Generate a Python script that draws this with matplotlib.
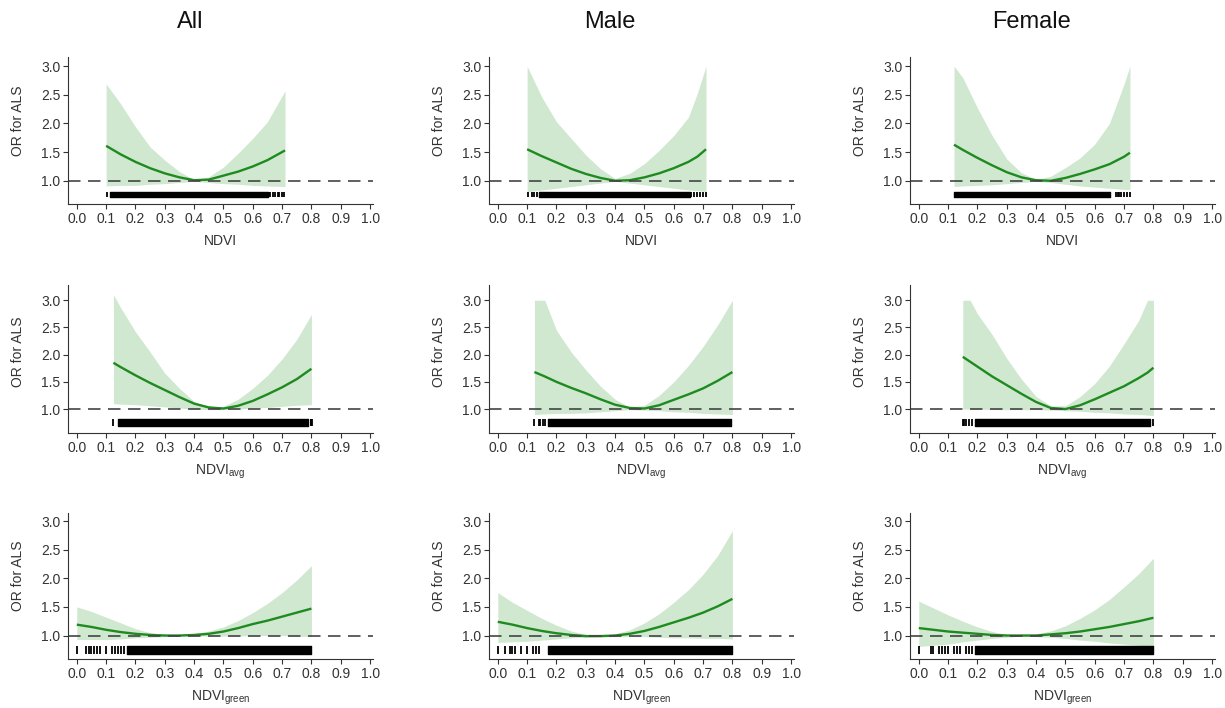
import matplotlib
matplotlib.use("Agg")
import matplotlib.pyplot as plt

plt.rcParams["font.family"] = ["Liberation Sans", "DejaVu Sans"]

# column / row labels
groups = ["All", "Male", "Female"]
exposures = ["NDVI", "NDVI$_{\\mathregular{avg}}$", "NDVI$_{\\mathregular{green}}$"]
x_ticks = [0.0, 0.1, 0.2, 0.3, 0.4, 0.5, 0.6, 0.7, 0.8, 0.9, 1.0]
y_ticks = [1.0, 1.5, 2.0, 2.5, 3.0]

# ---- row 1: NDVI ----
all_ndvi_x = [0.10, 0.15, 0.20, 0.25, 0.30, 0.35, 0.40, 0.45, 0.50, 0.55, 0.60, 0.65, 0.71]
all_ndvi_or = [1.61, 1.46, 1.33, 1.22, 1.13, 1.06, 1.01, 1.02, 1.09, 1.16, 1.25, 1.36, 1.53]
all_ndvi_hi = [2.69, 2.34, 1.94, 1.59, 1.36, 1.16, 1.02, 1.07, 1.24, 1.48, 1.74, 2.03, 2.57]
all_ndvi_lo = [0.91, 0.92, 0.92, 0.94, 0.95, 0.97, 0.99, 0.97, 0.95, 0.94, 0.92, 0.91, 0.90]
all_ndvi_rug = [0.102, 0.655, 0.66, 0.668, 0.675, 0.685, 0.69, 0.70, 0.705]
all_ndvi_dense = (0.114, 0.651)

male_ndvi_x = [0.10, 0.15, 0.20, 0.25, 0.30, 0.35, 0.40, 0.45, 0.50, 0.55, 0.60, 0.65, 0.68, 0.71]
male_ndvi_or = [1.55, 1.43, 1.32, 1.21, 1.12, 1.05, 1.00, 1.01, 1.06, 1.13, 1.22, 1.33, 1.42, 1.55]
male_ndvi_hi = [3.00, 2.46, 2.03, 1.74, 1.45, 1.21, 1.04, 1.13, 1.30, 1.53, 1.79, 2.11, 2.52, 3.00]
male_ndvi_lo = [0.81, 0.84, 0.87, 0.90, 0.93, 0.96, 0.99, 0.96, 0.93, 0.90, 0.87, 0.84, 0.83, 0.81]
male_ndvi_rug = [0.102, 0.115, 0.125, 0.135, 0.66, 0.67, 0.68, 0.69, 0.70, 0.71]
male_ndvi_dense = (0.14, 0.655)

female_ndvi_x = [0.12, 0.15, 0.20, 0.25, 0.30, 0.35, 0.40, 0.45, 0.50, 0.55, 0.60, 0.65, 0.70, 0.72]
female_ndvi_or = [1.63, 1.54, 1.40, 1.27, 1.15, 1.06, 1.01, 1.00, 1.05, 1.12, 1.20, 1.29, 1.42, 1.49]
female_ndvi_hi = [3.00, 2.80, 2.27, 1.79, 1.38, 1.14, 1.02, 1.08, 1.23, 1.40, 1.64, 2.00, 2.69, 3.00]
female_ndvi_lo = [0.90, 0.91, 0.92, 0.93, 0.95, 0.97, 0.99, 0.97, 0.94, 0.91, 0.89, 0.87, 0.85, 0.85]
female_ndvi_rug = [0.672, 0.678, 0.684, 0.69, 0.70, 0.71, 0.72]
female_ndvi_dense = (0.121, 0.653)

# ---- row 2: NDVI avg ----
all_avg_x = [0.125, 0.15, 0.20, 0.25, 0.30, 0.35, 0.40, 0.45, 0.50, 0.55, 0.60, 0.65, 0.70, 0.75, 0.80]
all_avg_or = [1.85, 1.77, 1.62, 1.48, 1.35, 1.22, 1.10, 1.03, 1.01, 1.06, 1.15, 1.27, 1.40, 1.55, 1.74]
all_avg_hi = [3.10, 2.86, 2.42, 2.05, 1.66, 1.38, 1.14, 1.03, 1.05, 1.18, 1.38, 1.62, 1.92, 2.28, 2.74]
all_avg_lo = [1.10, 1.09, 1.08, 1.06, 1.04, 1.02, 1.00, 0.99, 0.99, 1.00, 1.02, 1.03, 1.05, 1.07, 1.08]
all_avg_rug = [0.125, 0.797, 0.80, 0.803]
all_avg_dense = (0.14, 0.787)

male_avg_x = [0.125, 0.16, 0.20, 0.25, 0.30, 0.35, 0.40, 0.45, 0.50, 0.55, 0.60, 0.65, 0.70, 0.75, 0.80]
male_avg_or = [1.68, 1.60, 1.50, 1.39, 1.29, 1.18, 1.08, 1.02, 1.01, 1.07, 1.17, 1.27, 1.38, 1.52, 1.68]
male_avg_hi = [3.00, 3.00, 2.45, 2.05, 1.72, 1.42, 1.18, 1.03, 1.07, 1.25, 1.50, 1.80, 2.15, 2.55, 3.00]
male_avg_lo = [0.90, 0.91, 0.92, 0.92, 0.93, 0.95, 0.97, 0.99, 0.98, 0.97, 0.95, 0.94, 0.92, 0.91, 0.90]
male_avg_rug = [0.125, 0.14, 0.145, 0.155, 0.16]
male_avg_dense = (0.17, 0.795)

female_avg_x = [0.15, 0.175, 0.20, 0.25, 0.30, 0.35, 0.40, 0.45, 0.50, 0.55, 0.60, 0.65, 0.70, 0.75, 0.78, 0.80]
female_avg_or = [1.96, 1.87, 1.78, 1.60, 1.44, 1.28, 1.13, 1.02, 1.00, 1.07, 1.18, 1.30, 1.42, 1.57, 1.67, 1.76]
female_avg_hi = [3.00, 3.00, 2.75, 2.37, 1.93, 1.55, 1.23, 1.06, 1.06, 1.23, 1.47, 1.79, 2.20, 2.63, 3.00, 3.00]
female_avg_lo = [1.00, 1.00, 1.00, 0.99, 0.99, 0.99, 0.99, 0.98, 0.97, 0.96, 0.94, 0.93, 0.91, 0.90, 0.89, 0.88]
female_avg_rug = [0.15, 0.155, 0.16, 0.17, 0.18, 0.80]
female_avg_dense = (0.19, 0.79)

# ---- row 3: NDVI green ----
green_x = [0.0, 0.05, 0.10, 0.15, 0.20, 0.25, 0.30, 0.35, 0.40, 0.45, 0.50, 0.55, 0.60, 0.65, 0.70, 0.75, 0.80]

all_green_or = [1.19, 1.15, 1.10, 1.06, 1.03, 1.01, 1.00, 1.00, 1.01, 1.03, 1.07, 1.13, 1.20, 1.26, 1.33, 1.40, 1.47]
all_green_hi = [1.50, 1.42, 1.32, 1.22, 1.12, 1.05, 1.02, 1.01, 1.03, 1.08, 1.15, 1.26, 1.40, 1.56, 1.75, 1.97, 2.22]
all_green_lo = [0.93, 0.93, 0.93, 0.94, 0.96, 0.97, 0.98, 0.99, 0.99, 0.99, 0.99, 0.99, 1.00, 1.00, 1.00, 0.99, 0.98]
all_green_rug = [0.0, 0.03, 0.04, 0.05, 0.06, 0.07, 0.08, 0.10, 0.12, 0.13, 0.14, 0.15, 0.16]
all_green_dense = (0.17, 0.80)

male_green_or = [1.24, 1.19, 1.13, 1.08, 1.04, 1.01, 0.99, 0.99, 1.00, 1.03, 1.08, 1.15, 1.23, 1.31, 1.40, 1.51, 1.64]
male_green_hi = [1.75, 1.58, 1.44, 1.30, 1.18, 1.08, 1.02, 1.00, 1.03, 1.10, 1.22, 1.38, 1.58, 1.80, 2.07, 2.40, 2.83]
male_green_lo = [0.88, 0.89, 0.90, 0.92, 0.94, 0.96, 0.97, 0.98, 0.98, 0.98, 0.98, 0.97, 0.96, 0.96, 0.95, 0.95, 0.94]
male_green_rug = [0.0, 0.025, 0.04, 0.05, 0.06, 0.08, 0.10, 0.12, 0.13, 0.14]
male_green_dense = (0.17, 0.80)

female_green_or = [1.13, 1.10, 1.07, 1.05, 1.03, 1.01, 1.00, 1.00, 1.00, 1.02, 1.04, 1.07, 1.11, 1.15, 1.20, 1.25, 1.31]
female_green_hi = [1.60, 1.48, 1.36, 1.25, 1.15, 1.07, 1.02, 1.01, 1.03, 1.08, 1.17, 1.30, 1.45, 1.63, 1.85, 2.08, 2.35]
female_green_lo = [0.81, 0.83, 0.85, 0.89, 0.92, 0.95, 0.97, 0.99, 0.98, 0.97, 0.95, 0.92, 0.90, 0.87, 0.85, 0.83, 0.81]
female_green_rug = [0.0, 0.04, 0.05, 0.07, 0.08, 0.09, 0.10, 0.12, 0.13, 0.14, 0.16, 0.17, 0.18]
female_green_dense = (0.19, 0.80)

panels = [
    [(all_ndvi_x, all_ndvi_or, all_ndvi_lo, all_ndvi_hi, all_ndvi_rug, all_ndvi_dense),
     (male_ndvi_x, male_ndvi_or, male_ndvi_lo, male_ndvi_hi, male_ndvi_rug, male_ndvi_dense),
     (female_ndvi_x, female_ndvi_or, female_ndvi_lo, female_ndvi_hi, female_ndvi_rug, female_ndvi_dense)],
    [(all_avg_x, all_avg_or, all_avg_lo, all_avg_hi, all_avg_rug, all_avg_dense),
     (male_avg_x, male_avg_or, male_avg_lo, male_avg_hi, male_avg_rug, male_avg_dense),
     (female_avg_x, female_avg_or, female_avg_lo, female_avg_hi, female_avg_rug, female_avg_dense)],
    [(green_x, all_green_or, all_green_lo, all_green_hi, all_green_rug, all_green_dense),
     (green_x, male_green_or, male_green_lo, male_green_hi, male_green_rug, male_green_dense),
     (green_x, female_green_or, female_green_lo, female_green_hi, female_green_rug, female_green_dense)],
]

W, H = 1225, 708
col_left = [68, 489, 910]
col_width = 305
# (bottom px, top px, ylim) for each row
row_geom = [(204, 57, (0.595, 3.16)), (433, 285, (0.56, 3.28)), (659, 513, (0.59, 3.14))]
rug_span = [(0.71, 0.80), (0.69, 0.81), (0.68, 0.82)]

line_col = "#1f8a1f"
band_col = "#cfe8cf"
text_col = "#333333"

fig = plt.figure(figsize=(W / 100, H / 100), dpi=100)

for r in range(3):
    bot, top, ylim = row_geom[r]
    for c in range(3):
        x, orr, lo, hi, rug, dense = panels[r][c]
        ax = fig.add_axes([col_left[c] / W, 1 - bot / H, col_width / W, (bot - top) / H])
        ax.fill_between(x, lo, hi, color=band_col, lw=0)
        ax.plot(x, orr, color=line_col, lw=1.7, solid_capstyle="butt")
        ax.axhline(1.0, color="#444444", lw=1.2, ls=(0, (7.5, 4.5)))
        r0, r1 = rug_span[r]
        ax.vlines(rug, r0, r1, color="black", lw=1.3)
        ax.broken_barh([(dense[0], dense[1] - dense[0])], (r0, r1 - r0), color="black")

        ax.set_xlim(-0.03, 1.01)
        ax.set_ylim(*ylim)
        ax.set_xticks(x_ticks)
        ax.set_xticklabels([f"{v:.1f}" for v in x_ticks])
        ax.set_yticks(y_ticks)
        ax.set_yticklabels([f"{v:.1f}" for v in y_ticks])
        for s in ["top", "right"]:
            ax.spines[s].set_visible(False)
        for s in ["left", "bottom"]:
            ax.spines[s].set_color(text_col)
            ax.spines[s].set_linewidth(0.8)
        ax.tick_params(direction="out", length=3.5, width=0.8, color=text_col,
                       labelsize=10, labelcolor=text_col, pad=2)
        ax.set_xlabel(exposures[r], fontsize=10, color=text_col, labelpad=6)
        ax.text(-0.165, 2.05, "OR for ALS", transform=ax.get_yaxis_transform(),
                rotation=90, ha="center", va="center", fontsize=10, color=text_col)

title_x = [190, 610, 1032]
for c in range(3):
    fig.text(title_x[c] / W, 1 - 22 / H, groups[c], ha="center", va="center",
             fontsize=17, color="#111111")

fig.savefig("out.png", dpi=100)
